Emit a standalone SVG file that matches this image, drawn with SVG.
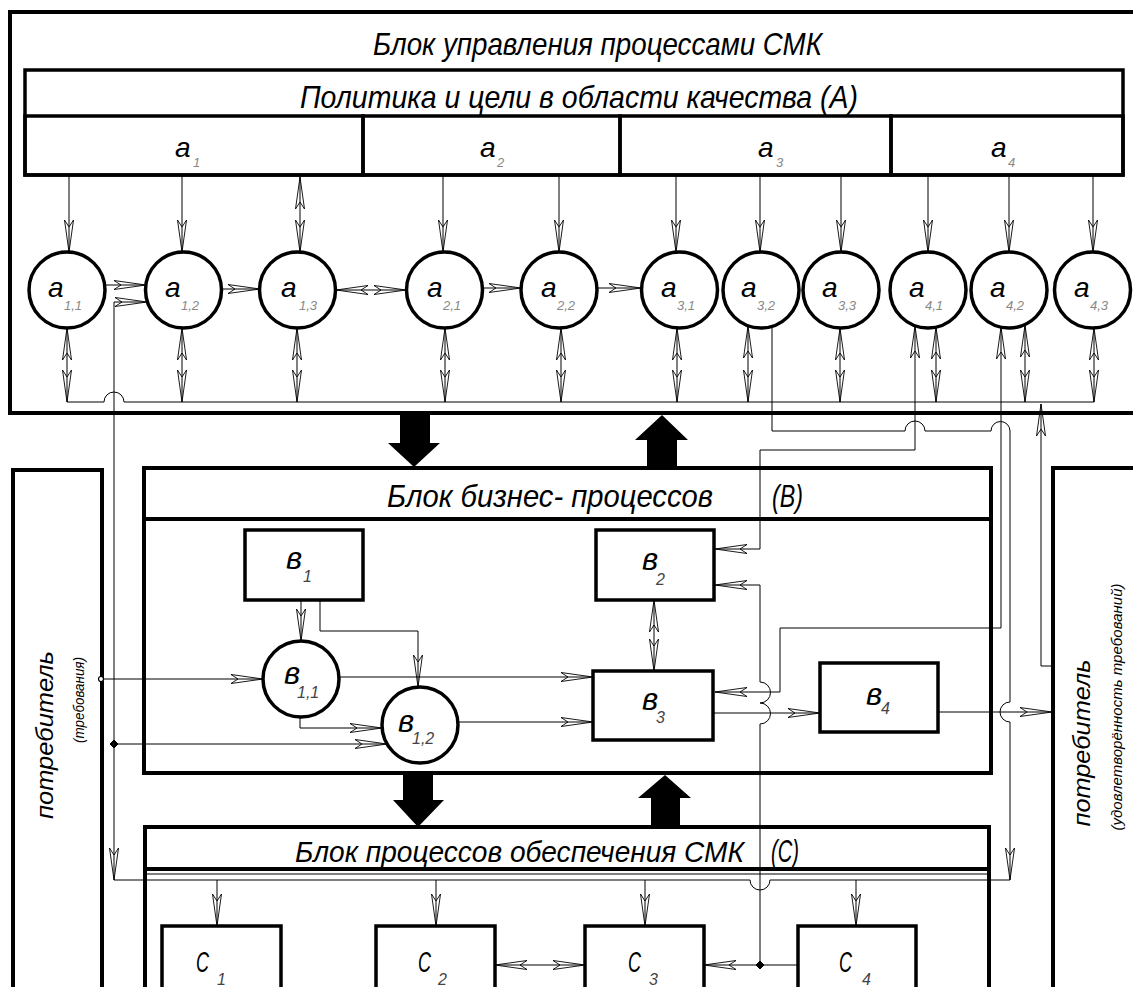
<svg xmlns="http://www.w3.org/2000/svg" width="1133" height="987" viewBox="0 0 1133 987">
<style>
.bx{fill:#fff;stroke:#000;stroke-width:3.5}
.bo{fill:none;stroke:#000;stroke-width:4}
.bl{fill:none;stroke:#000;stroke-width:3.5}
.ln{fill:none;stroke:#000;stroke-width:1}
.ar{marker-end:url(#ah)}
.dar{marker-start:url(#ah);marker-end:url(#ah)}
.sar{marker-start:url(#ah)}
.t{font-family:"Liberation Sans",Arial,sans-serif;font-style:italic;fill:#000}
.ttl{font-size:32px}
.lb{font-size:28px}
.lv{font-size:31px}
.sa{font-size:13px;fill:#888}
.sb{font-size:16px;fill:#444}
.fat{fill:#000}
.jn{fill:#000;stroke:#000;stroke-width:1}
</style>
<defs>
<marker id="ah" viewBox="-34 -6 36 12" refX="0" refY="0" markerWidth="36" markerHeight="12" markerUnits="userSpaceOnUse" orient="auto-start-reverse">
<path d="M0,0 L-32,-4.5 L-25,0 L-32,4.5 Z" fill="none" stroke="#000" stroke-width="0.9"/>
</marker>
</defs>
<rect width="1133" height="987" fill="#fff"/>

<!-- Block A -->
<g id="blockA">
<rect class="bo" x="10" y="12" width="1135" height="401"/>
<text class="t ttl" x="373" y="55" textLength="449" lengthAdjust="spacingAndGlyphs">Блок управления процессами СМК</text>
</g>
<g id="policy">
<rect class="bl" x="25" y="70" width="1098" height="105"/>
<text class="t ttl" x="300" y="108" textLength="558" lengthAdjust="spacingAndGlyphs">Политика и цели в области качества (А)</text>
</g>
<g id="a1"><rect class="bl" x="25" y="116" width="338" height="59"/><text class="t lb" x="175" y="157">a</text><text class="t sa" x="193" y="167">1</text></g>
<g id="a2"><rect class="bl" x="363" y="116" width="257" height="59"/><text class="t lb" x="480" y="157">a</text><text class="t sa" x="497" y="167">2</text></g>
<g id="a3"><rect class="bl" x="620" y="116" width="271" height="59"/><text class="t lb" x="758" y="157">a</text><text class="t sa" x="776" y="167">3</text></g>
<g id="a4"><rect class="bl" x="891" y="116" width="232" height="59"/><text class="t lb" x="991" y="157">a</text><text class="t sa" x="1008" y="167">4</text></g>

<!-- Block B -->
<g id="blockB">
<rect class="bo" x="144" y="468" width="847" height="305"/>
<line class="bo" x1="144" y1="519" x2="991" y2="519"/>
<text class="t ttl" x="387" y="507" textLength="326" lengthAdjust="spacingAndGlyphs">Блок бизнес- процессов</text>
<text class="t ttl" x="772" y="507" textLength="31" lengthAdjust="spacingAndGlyphs">(B)</text>
</g>

<!-- Block C -->
<g id="blockC">
<path class="bo" d="M145,1000 V827 H989 V1000"/>
<line class="bo" x1="145" y1="869" x2="989" y2="869"/>
<line class="ln" x1="145" y1="874" x2="989" y2="874"/>
<text class="t" font-size="29" x="295" y="862" textLength="449" lengthAdjust="spacingAndGlyphs">Блок процессов обеспечения СМК</text>
<text class="t ttl" x="771" y="862" textLength="28" lengthAdjust="spacingAndGlyphs">(С)</text>
</g>

<!-- Consumers -->
<g id="consumerL">
<rect class="bo" x="13" y="470" width="89" height="540"/>
<text class="t" font-size="24" text-anchor="middle" transform="translate(53,735) rotate(-90)" textLength="168" lengthAdjust="spacingAndGlyphs">потребитель</text>
<text class="t" font-size="14" text-anchor="middle" transform="translate(84,700) rotate(-90)" textLength="86" lengthAdjust="spacingAndGlyphs">(требования)</text>
</g>
<g id="consumerR">
<rect class="bo" x="1053" y="468" width="100" height="540"/>
<text class="t" font-size="24" text-anchor="middle" transform="translate(1090,743) rotate(-90)" textLength="167" lengthAdjust="spacingAndGlyphs">потребитель</text>
<text class="t" font-size="15" text-anchor="middle" transform="translate(1122,707) rotate(-90)" textLength="247" lengthAdjust="spacingAndGlyphs">(удовлетворённость требований)</text>
</g>

<!-- Connectors -->
<g id="connectors">
<path class="fat" d="M400,413 H430 V443 H440 L414,467 L388,443 H400 Z"/>
<path class="fat" d="M647,468 V440 H635 L662,415 L688,440 H677 V468 Z"/>
<path class="fat" d="M403,773 H433 V800 H444 L418,827 L393,800 H403 Z"/>
<path class="fat" d="M651,827 V798 H638 L665,775 L691,798 H680 V827 Z"/>

<path class="ln ar" d="M69,175 V252"/>
<path class="ln ar" d="M182,175 V252"/>
<path class="ln dar" d="M300,177 V252"/>
<path class="ln ar" d="M443,175 V252"/>
<path class="ln ar" d="M559,175 V252"/>
<path class="ln ar" d="M676,175 V252"/>
<path class="ln ar" d="M760,175 V252"/>
<path class="ln ar" d="M841,175 V252"/>
<path class="ln ar" d="M928,175 V252"/>
<path class="ln ar" d="M1009,175 V252"/>
<path class="ln ar" d="M1093,175 V252"/>

<path class="ln dar" d="M67,328 V402"/>
<path class="ln dar" d="M182,328 V402"/>
<path class="ln dar" d="M297,328 V402"/>
<path class="ln dar" d="M445,328 V402"/>
<path class="ln dar" d="M561,328 V402"/>
<path class="ln dar" d="M677,328 V402"/>
<path class="ln dar" d="M748,326 V402"/>
<path class="ln dar" d="M840,328 V402"/>
<path class="ln dar" d="M936,327 V402"/>
<path class="ln dar" d="M1025,325 V402"/>
<path class="ln dar" d="M1094,328 V402"/>

<path class="ln ar" d="M105,285 H146"/>
<path class="ln ar" d="M222,289 H260"/>
<path class="ln dar" d="M336,290 H406"/>
<path class="ln ar" d="M483,288 H521"/>
<path class="ln ar" d="M597,288 H641"/>

<path class="ln" d="M67,402 H104 A10,10 0 0 1 124,402 H1094"/>
<path class="ln dar" d="M147,302 H114 V880"/>
<path class="ln ar" d="M772,326 V431 H905 A10,10 0 0 1 925,431 H991 A9.5,9.5 0 0 1 1010,431 V702 A10,10 0 0 0 1010,722 V880"/>
<path class="ln dar" d="M715,549 H760 V450 H915 V326"/>
<path class="ln dar" d="M715,692 H780 V628 H1001 V327"/>
<path class="ln sar" d="M715,585 H760 V682 A10.5,10.5 0 0 1 760,703 A10.5,10.5 0 0 1 760,724 V965"/>
<path class="ln ar" d="M1052,666 H1041 V404"/>

<path class="ln ar" d="M101,679 H263"/>
<path class="ln ar" d="M114,744 H387"/>
<path class="ln ar" d="M301,600 V641"/>
<path class="ln ar" d="M320,600 V631 H418 V687"/>
<path class="ln ar" d="M339,677 H593"/>
<path class="ln ar" d="M300,717 V728 H382"/>
<path class="ln ar" d="M458,722 H593"/>
<path class="ln dar" d="M654,600 V671"/>
<path class="ln ar" d="M713,713 H820"/>
<path class="ln ar" d="M938,712 H1052"/>

<path class="ln" d="M114,880 H750 A10,10 0 0 0 770,880 H1010"/>
<path class="ln ar" d="M217,880 V926"/>
<path class="ln ar" d="M436,880 V926"/>
<path class="ln ar" d="M645,880 V926"/>
<path class="ln ar" d="M856,880 V926"/>
<path class="ln dar" d="M495,965 H585"/>
<path class="ln ar" d="M798,965 H704"/>

<circle cx="101" cy="679" r="2.5" fill="#fff" stroke="#000" stroke-width="1.2"/>
<polygon class="jn" points="114,740 118,744 114,748 110,744"/>
<polygon class="jn" points="760,961 764,965 760,969 756,965"/>
</g>

<!-- Level-2 nodes A -->
<g id="a11"><circle class="bx" cx="67" cy="290" r="38"/><text class="t lb" x="48" y="297">a</text><text class="t sa" x="64" y="310">1,1</text></g>
<g id="a12"><circle class="bx" cx="183.5" cy="290" r="38"/><text class="t lb" x="165" y="297">a</text><text class="t sa" x="181" y="310">1,2</text></g>
<g id="a13"><circle class="bx" cx="297.5" cy="290" r="38"/><text class="t lb" x="281" y="297">a</text><text class="t sa" x="299" y="310">1,3</text></g>
<g id="a21"><circle class="bx" cx="444.5" cy="290" r="38"/><text class="t lb" x="427" y="297">a</text><text class="t sa" x="443" y="310">2,1</text></g>
<g id="a22"><circle class="bx" cx="559" cy="290" r="38"/><text class="t lb" x="541" y="297">a</text><text class="t sa" x="557" y="310">2,2</text></g>
<g id="a31"><circle class="bx" cx="679.5" cy="290" r="38"/><text class="t lb" x="661" y="297">a</text><text class="t sa" x="677" y="310">3,1</text></g>
<g id="a32"><circle class="bx" cx="761" cy="290" r="38"/><text class="t lb" x="741" y="297">a</text><text class="t sa" x="757" y="310">3,2</text></g>
<g id="a33"><circle class="bx" cx="841" cy="290" r="38"/><text class="t lb" x="822" y="297">a</text><text class="t sa" x="838" y="310">3,3</text></g>
<g id="a41"><circle class="bx" cx="928" cy="290" r="38"/><text class="t lb" x="909" y="297">a</text><text class="t sa" x="925" y="310">4,1</text></g>
<g id="a42"><circle class="bx" cx="1009" cy="290" r="38"/><text class="t lb" x="990" y="297">a</text><text class="t sa" x="1006" y="310">4,2</text></g>
<g id="a43"><circle class="bx" cx="1092.5" cy="290" r="38"/><text class="t lb" x="1074" y="297">a</text><text class="t sa" x="1090" y="310">4,3</text></g>

<!-- B nodes -->
<g id="b1"><rect class="bx" x="245" y="530" width="118" height="70"/><text class="t lv" x="286" y="569">в</text><text class="t sb" x="303" y="582">1</text></g>
<g id="b2"><rect class="bx" x="596" y="530" width="118" height="70"/><text class="t lv" x="642" y="570">в</text><text class="t sb" x="656" y="585">2</text></g>
<g id="b3"><rect class="bx" x="593" y="671" width="120" height="69"/><text class="t lv" x="642" y="710">в</text><text class="t sb" x="656" y="723">3</text></g>
<g id="b4"><rect class="bx" x="820" y="663" width="118" height="69"/><text class="t lv" x="866" y="705">в</text><text class="t sb" x="881" y="714">4</text></g>
<g id="b11"><circle class="bx" cx="301" cy="679" r="38"/><text class="t lv" x="284" y="684">в</text><text class="t sb" x="297" y="698">1,1</text></g>
<g id="b12"><circle class="bx" cx="420" cy="725" r="38"/><text class="t lv" x="398" y="732">в</text><text class="t sb" x="412" y="744">1,2</text></g>

<!-- C nodes -->
<g id="c1"><rect class="bx" x="162" y="926" width="119" height="80"/><text class="t" font-size="30" x="196" y="972" textLength="13" lengthAdjust="spacingAndGlyphs">С</text><text class="t sb" x="217" y="985">1</text></g>
<g id="c2"><rect class="bx" x="376" y="926" width="119" height="80"/><text class="t" font-size="30" x="418" y="972" textLength="13" lengthAdjust="spacingAndGlyphs">С</text><text class="t sb" x="438" y="985">2</text></g>
<g id="c3"><rect class="bx" x="585" y="926" width="119" height="80"/><text class="t" font-size="30" x="628" y="972" textLength="13" lengthAdjust="spacingAndGlyphs">С</text><text class="t sb" x="649" y="985">3</text></g>
<g id="c4"><rect class="bx" x="798" y="926" width="118" height="80"/><text class="t" font-size="30" x="839" y="972" textLength="13" lengthAdjust="spacingAndGlyphs">С</text><text class="t sb" x="862" y="985">4</text></g>
</svg>
